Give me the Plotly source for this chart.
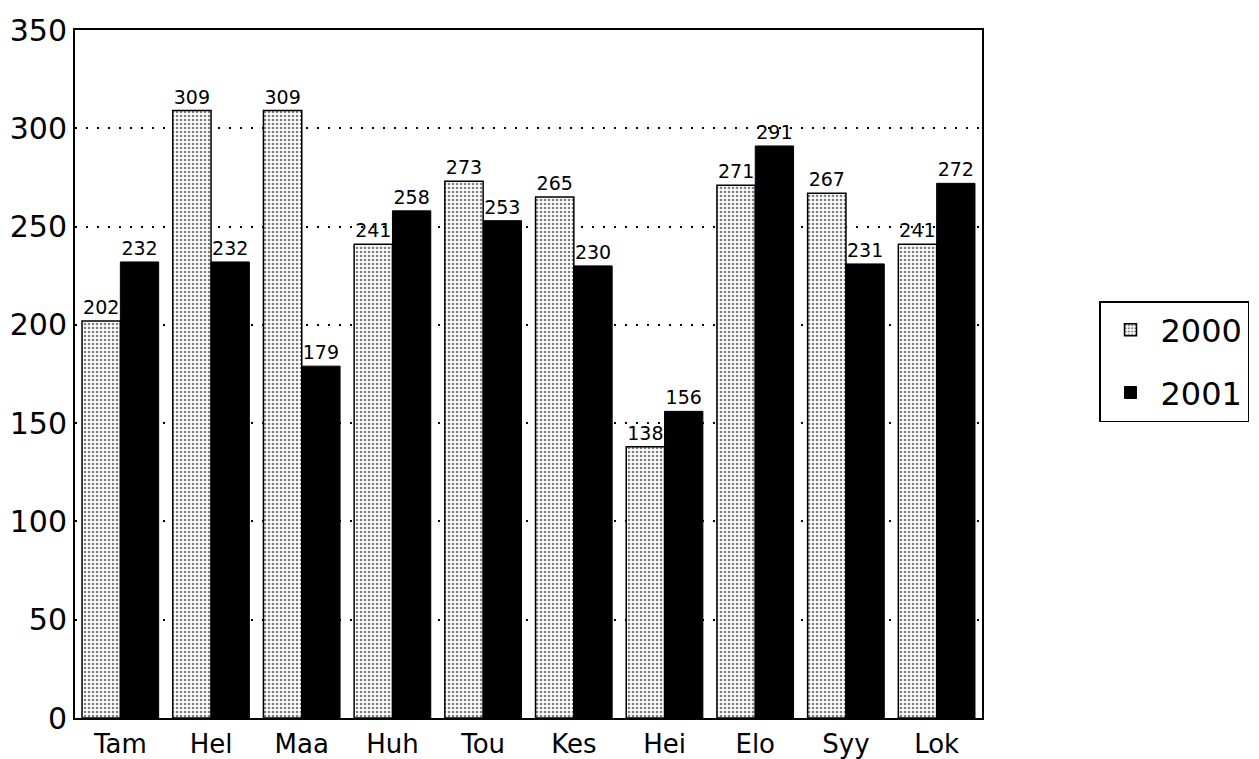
import plotly.graph_objects as go

categories = ["Tam", "Hel", "Maa", "Huh", "Tou", "Kes", "Hei", "Elo", "Syy", "Lok"]
values_2000 = [202, 309, 309, 241, 273, 265, 138, 271, 267, 241]
values_2001 = [232, 232, 179, 258, 253, 230, 156, 291, 231, 272]
series_names = ["2000", "2001"]
y_ticks = [0, 50, 100, 150, 200, 250, 300, 350]

FONT = "DejaVu Sans"

fig = go.Figure()
fig.add_trace(go.Bar(
    name=series_names[0], x=categories, y=values_2000, legendgroup="a",
    text=[str(v) for v in values_2000], textposition="outside",
    textfont=dict(size=19, color="black", family=FONT),
    marker=dict(color="white", line=dict(color="black", width=1.5),
                pattern=dict(shape=".", fgcolor="black", bgcolor="white",
                             size=4, solidity=0.35)),
    cliponaxis=False,
))
fig.add_trace(go.Bar(
    name=series_names[1], x=categories, y=values_2001, legendgroup="b",
    text=[str(v) for v in values_2001], textposition="outside",
    textfont=dict(size=19, color="black", family=FONT),
    marker=dict(color="black", line=dict(color="black", width=1)),
    cliponaxis=False,
))

fig.update_layout(
    width=1259, height=759,
    margin=dict(l=67, r=285, t=22, b=49),
    paper_bgcolor="white", plot_bgcolor="white",
    barmode="group", bargap=0.155, bargroupgap=0,
    font=dict(family=FONT, color="black"),
    showlegend=True,
    legend=dict(x=1.129, y=0.606, xanchor="left", yanchor="top",
                bordercolor="black", borderwidth=1.5,
                font=dict(size=32, family=FONT, color="black"),
                traceorder="grouped", tracegroupgap=18,
                itemwidth=50),
    xaxis=dict(showline=True, linecolor="black", linewidth=2, mirror=True,
               ticks="", tickfont=dict(size=26, family=FONT, color="black"),
               showgrid=False, automargin=False, ticklabelstandoff=2),
    yaxis=dict(range=[0, 350], tickvals=y_ticks, showline=True,
               linecolor="black", linewidth=2, mirror=True, ticks="",
               tickfont=dict(size=30, family=FONT, color="black"),
               showgrid=True, gridcolor="black", gridwidth=2,
               griddash="2px,9px", zeroline=False, automargin=False),
)

fig.write_html("out.html")
